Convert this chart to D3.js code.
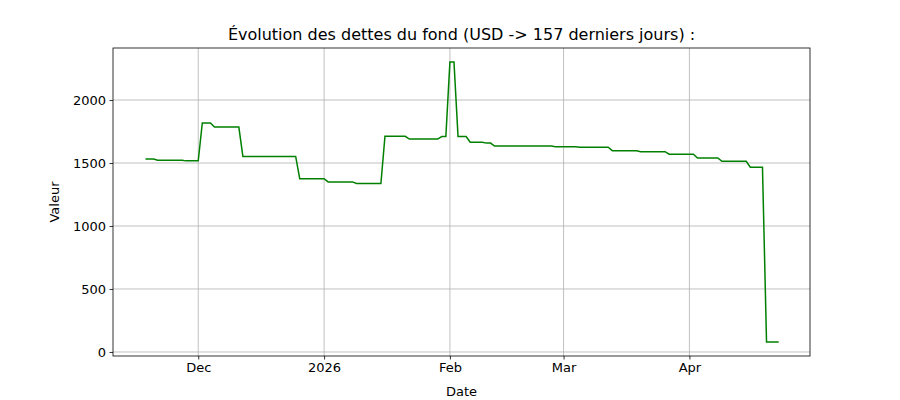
<!DOCTYPE html>
<html><head><meta charset="utf-8">
<script src="https://cdn.jsdelivr.net/npm/d3@7"></script>
<style>body{margin:0;background:#fff;font-family:"DejaVu Sans",sans-serif}</style>
</head><body><div id="chart"></div>
<script>
// step points: date, value (first and last day of each level)
const dates = ["2025-11-18","2025-11-20","2025-11-21","2025-11-27","2025-11-28","2025-12-01",
  "2025-12-02","2025-12-04","2025-12-05","2025-12-11","2025-12-12","2025-12-25",
  "2025-12-26","2026-01-01","2026-01-02","2026-01-08","2026-01-09","2026-01-15",
  "2026-01-16","2026-01-21","2026-01-22","2026-01-29","2026-01-30","2026-01-31",
  "2026-02-01","2026-02-02","2026-02-03","2026-02-05","2026-02-06","2026-02-09",
  "2026-02-10","2026-02-11","2026-02-12","2026-02-26","2026-02-27","2026-03-04",
  "2026-03-05","2026-03-12","2026-03-13","2026-03-19","2026-03-20","2026-03-26",
  "2026-03-27","2026-04-02","2026-04-03","2026-04-08","2026-04-09","2026-04-15",
  "2026-04-16","2026-04-19","2026-04-20","2026-04-23"];
const values = [1532,1532,1522,1522,1517,1517,
  1818,1818,1785,1785,1552,1552,
  1375,1375,1350,1350,1337,1337,
  1712,1712,1690,1690,1710,1710,
  2302,2302,1710,1710,1665,1665,
  1658,1658,1635,1635,1630,1630,
  1625,1625,1598,1598,1590,1590,
  1570,1570,1540,1540,1513,1513,
  1467,1467,80,80];
const yTicks = [0,500,1000,1500,2000];
const xTicks = ["2025-12-01","2026-01-01","2026-02-01","2026-03-01","2026-04-01"];
const xTickLabels = ["Dec","2026","Feb","Mar","Apr"];

const W = 900, H = 400, m = {l:113, r:90, t:48, b:44};
const parse = d3.timeParse("%Y-%m-%d");
const data = dates.map((d,i) => ({date: parse(d), val: values[i]}));

const svg = d3.select('#chart').append('svg').attr('width', W).attr('height', H);

const x = d3.scaleTime()
  .domain([parse("2025-11-10"), d3.timeHour.offset(parse("2026-04-30"), 17)])
  .range([m.l, W - m.r]);
const y = d3.scaleLinear().domain([-32, 2413]).range([H - m.b, m.t]);

const g = svg.append('g');
// grid
g.selectAll('.gx').data(xTicks).join('line')
  .attr('x1', d => x(parse(d))).attr('x2', d => x(parse(d)))
  .attr('y1', m.t).attr('y2', H - m.b).attr('stroke', '#b0b0b0').attr('stroke-width', 0.8);
g.selectAll('.gy').data(yTicks).join('line')
  .attr('y1', d => y(d)).attr('y2', d => y(d))
  .attr('x1', m.l).attr('x2', W - m.r).attr('stroke', '#b0b0b0').attr('stroke-width', 0.8);

// axes
const xAxis = d3.axisBottom(x).tickValues(xTicks.map(parse))
  .tickFormat((d,i) => xTickLabels[i]).tickSize(3.5).tickPadding(3.5);
const yAxis = d3.axisLeft(y).tickValues(yTicks).tickFormat(d3.format("d")).tickSize(3.5).tickPadding(3.5);
const ax = svg.append('g').attr('transform', `translate(0,${H - m.b})`).call(xAxis);
const ay = svg.append('g').attr('transform', `translate(${m.l},0)`).call(yAxis);
[ax, ay].forEach(a => {
  a.select('.domain').remove();
  a.selectAll('text').attr('font-size', 13).attr('font-family', 'DejaVu Sans').attr('fill', '#000');
  a.selectAll('line').attr('stroke', '#000').attr('stroke-width', 0.8);
});

// line
svg.append('path').datum(data)
  .attr('fill', 'none').attr('stroke', 'green').attr('stroke-width', 1.5)
  .attr('d', d3.line().x(d => x(d.date)).y(d => y(d.val)));

// frame
svg.append('rect').attr('x', m.l).attr('y', m.t)
  .attr('width', W - m.l - m.r).attr('height', H - m.t - m.b)
  .attr('fill', 'none').attr('stroke', '#000').attr('stroke-width', 0.8);

// labels
svg.append('text').attr('x', (m.l + W - m.r)/2).attr('y', 40).attr('text-anchor', 'middle')
  .attr('font-size', 16).text('Évolution des dettes du fond (USD -> 157 derniers jours) :');
svg.append('text').attr('x', (m.l + W - m.r)/2).attr('y', 396).attr('text-anchor', 'middle')
  .attr('font-size', 13).text('Date');
svg.append('text').attr('transform', `translate(59,${(m.t + H - m.b)/2}) rotate(-90)`)
  .attr('text-anchor', 'middle').attr('font-size', 13).text('Valeur');
</script></body></html>
